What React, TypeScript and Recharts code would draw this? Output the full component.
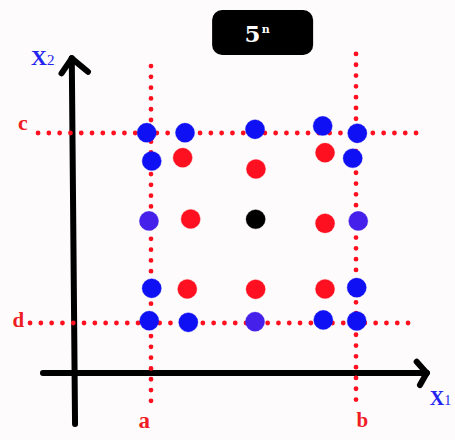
import React from 'react';
import { ScatterChart, Scatter, XAxis, YAxis, ReferenceLine, ReferenceDot } from 'recharts';

// Design points in coded units (a = -1, b = +1 on X1; d = -1, c = +1 on X2)
const bluePoints = [
  { x: -1.042, y: 1.003 }, { x: -0.668, y: 1.003 }, { x: 0.015, y: 1.039 }, { x: 0.675, y: 1.074 }, { x: 1.013, y: 0.997 },
  { x: -0.993, y: 0.705 }, { x: 0.968, y: 0.734 },
  { x: -0.993, y: -0.635 }, { x: 1.007, y: -0.628 },
  { x: -1.017, y: -0.976 }, { x: -0.636, y: -0.993 }, { x: 0.681, y: -0.968 }, { x: 1.007, y: -0.979 },
];
const purplePoints = [
  { x: -1.02, y: 0.074 }, { x: 1.022, y: 0.074 }, { x: 0.015, y: -0.986 },
];
const redPoints = [
  { x: -0.691, y: 0.74 }, { x: 0.024, y: 0.621 }, { x: 0.698, y: 0.793 },
  { x: -0.613, y: 0.095 }, { x: 0.698, y: 0.049 },
  { x: -0.646, y: -0.642 }, { x: 0.021, y: -0.645 }, { x: 0.698, y: -0.642 },
];
const centerPoints = [{ x: 0.021, y: 0.092 }];

// Factor level guide lines [fixed value, from, to]
const levelA = { x: -1, from: 1.705, to: -1.895 };
const levelB = { x: 1, from: 1.832, to: -1.884 };
const levelC = { y: 1, from: -2.102, to: 1.644 };
const levelD = { y: -1, from: -2.18, to: 1.576 };

// Axis arrows
const x1Axis = { y: -1.526, from: -2.054, to: 1.69 };
const x2Axis = { fromX: -1.741, fromY: -2.063, toX: -1.773, toY: 1.786 };

const W = 455;
const H = 440;
const PX_X = 102.5;
const PX_Y = 95;
const xMin = -1 - 151 / PX_X;
const xMax = xMin + W / PX_X;
const yMax = 1 + 133 / PX_Y;
const yMin = yMax - H / PX_Y;

const BLUE = '#1010f4';
const PURPLE = '#4420ea';
const RED = '#ff1020';
const LBL_RED = '#f01c24';
const LBL_BLUE = '#2424f0';

const dot = (color: string) => (p: any) => (
  <circle cx={p.cx} cy={p.cy} r={9.6} fill={color} stroke={color} strokeOpacity={0.35} strokeWidth={1} />
);

const textShape = (render: (cx: number, cy: number) => React.ReactNode) => (p: any) => <g>{render(p.cx, p.cy)}</g>;

const serif = '"Liberation Serif", "Times New Roman", serif';
const heavySerif = '"DejaVu Serif", serif';

export default function App() {
  const dotted = { stroke: RED, strokeWidth: 4.8, strokeDasharray: '0 10.8', strokeLinecap: 'round' as const, ifOverflow: 'visible' as const };
  const black = { stroke: '#000', strokeWidth: 6, strokeLinecap: 'round' as const, ifOverflow: 'visible' as const };
  return (
    <div style={{ position: 'absolute', left: 0, top: 0, width: W, height: H, background: '#fdfbfb' }}>
      <ScatterChart width={W} height={H} margin={{ top: 0, right: 0, bottom: 0, left: 0 }}>
        <XAxis type="number" dataKey="x" domain={[xMin, xMax]} allowDataOverflow hide />
        <YAxis type="number" dataKey="y" domain={[yMin, yMax]} allowDataOverflow hide />

        {/* black axes */}
        <ReferenceLine segment={[{ x: x1Axis.from, y: x1Axis.y }, { x: x1Axis.to, y: x1Axis.y }]} {...black} />
        <ReferenceLine segment={[{ x: 1.592, y: -1.407 }, { x: x1Axis.to, y: x1Axis.y }]} {...black} />
        <ReferenceLine segment={[{ x: 1.624, y: -1.653 }, { x: x1Axis.to, y: x1Axis.y }]} {...black} />
        <ReferenceLine segment={[{ x: x2Axis.fromX, y: x2Axis.fromY }, { x: x2Axis.toX, y: x2Axis.toY }]} {...black} />
        <ReferenceLine segment={[{ x: -1.873, y: 1.628 }, { x: x2Axis.toX, y: x2Axis.toY }]} {...black} />
        <ReferenceLine segment={[{ x: -1.615, y: 1.645 }, { x: x2Axis.toX, y: x2Axis.toY }]} {...black} />

        {/* red dotted level lines */}
        <ReferenceLine segment={[{ x: levelA.x, y: levelA.from }, { x: levelA.x, y: levelA.to }]} {...dotted} />
        <ReferenceLine segment={[{ x: levelB.x, y: levelB.from }, { x: levelB.x, y: levelB.to }]} {...dotted} />
        <ReferenceLine segment={[{ x: levelC.from, y: levelC.y }, { x: levelC.to, y: levelC.y }]} {...dotted} />
        <ReferenceLine segment={[{ x: levelD.from, y: levelD.y }, { x: levelD.to, y: levelD.y }]} {...dotted} />

        <Scatter data={bluePoints} shape={dot(BLUE)} isAnimationActive={false} />
        <Scatter data={purplePoints} shape={dot(PURPLE)} isAnimationActive={false} />
        <Scatter data={redPoints} shape={dot(RED)} isAnimationActive={false} />
        <Scatter data={centerPoints} shape={dot('#000')} isAnimationActive={false} />

        {/* level labels */}
        <ReferenceDot x={-1.065} y={-2.105} ifOverflow="visible" shape={textShape((cx, cy) => (
          <text x={cx} y={cy} textAnchor="middle" fontFamily={serif} fontWeight="bold" fontSize={23} fill={LBL_RED}>a</text>
        ))} />
        <ReferenceDot x={1.063} y={-2.095} ifOverflow="visible" shape={textShape((cx, cy) => (
          <text x={cx} y={cy} textAnchor="middle" fontFamily={serif} fontWeight="bold" fontSize={21} fill={LBL_RED}>b</text>
        ))} />
        <ReferenceDot x={-2.249} y={1.032} ifOverflow="visible" shape={textShape((cx, cy) => (
          <text x={cx} y={cy} textAnchor="middle" fontFamily={serif} fontWeight="bold" fontSize={22} fill={LBL_RED}>c</text>
        ))} />
        <ReferenceDot x={-2.293} y={-1.042} ifOverflow="visible" shape={textShape((cx, cy) => (
          <text x={cx} y={cy} textAnchor="middle" fontFamily={serif} fontWeight="bold" fontSize={21} fill={LBL_RED}>d</text>
        ))} />

        {/* axis names */}
        <ReferenceDot x={-2.17} y={1.716} ifOverflow="visible" shape={textShape((cx, cy) => (
          <text x={cx} y={cy} fontFamily={serif} fill={LBL_BLUE}>
            <tspan fontWeight="bold" fontSize={22}>X</tspan>
            <tspan fontSize={15}>2</tspan>
          </text>
        ))} />
        <ReferenceDot x={1.72} y={-1.863} ifOverflow="visible" shape={textShape((cx, cy) => (
          <text x={cx} y={cy} fontFamily={serif} fill={LBL_BLUE}>
            <tspan fontWeight="bold" fontSize={20}>X</tspan>
            <tspan fontSize={14}>1</tspan>
          </text>
        ))} />

        {/* title badge */}
        <ReferenceDot x={0.089} y={2.058} ifOverflow="visible" shape={textShape((cx, cy) => (
          <g>
            <rect x={cx - 50.5} y={cy - 22.5} width={101} height={45} rx={10} fill="#000" />
            <text x={cx - 18} y={cy + 9.5} fontFamily={heavySerif} fontWeight="bold" fill="#fff">
              <tspan fontSize={23}>5</tspan>
              <tspan fontSize={11} dy={-9} dx={1}>n</tspan>
            </text>
          </g>
        ))} />
      </ScatterChart>
    </div>
  );
}
